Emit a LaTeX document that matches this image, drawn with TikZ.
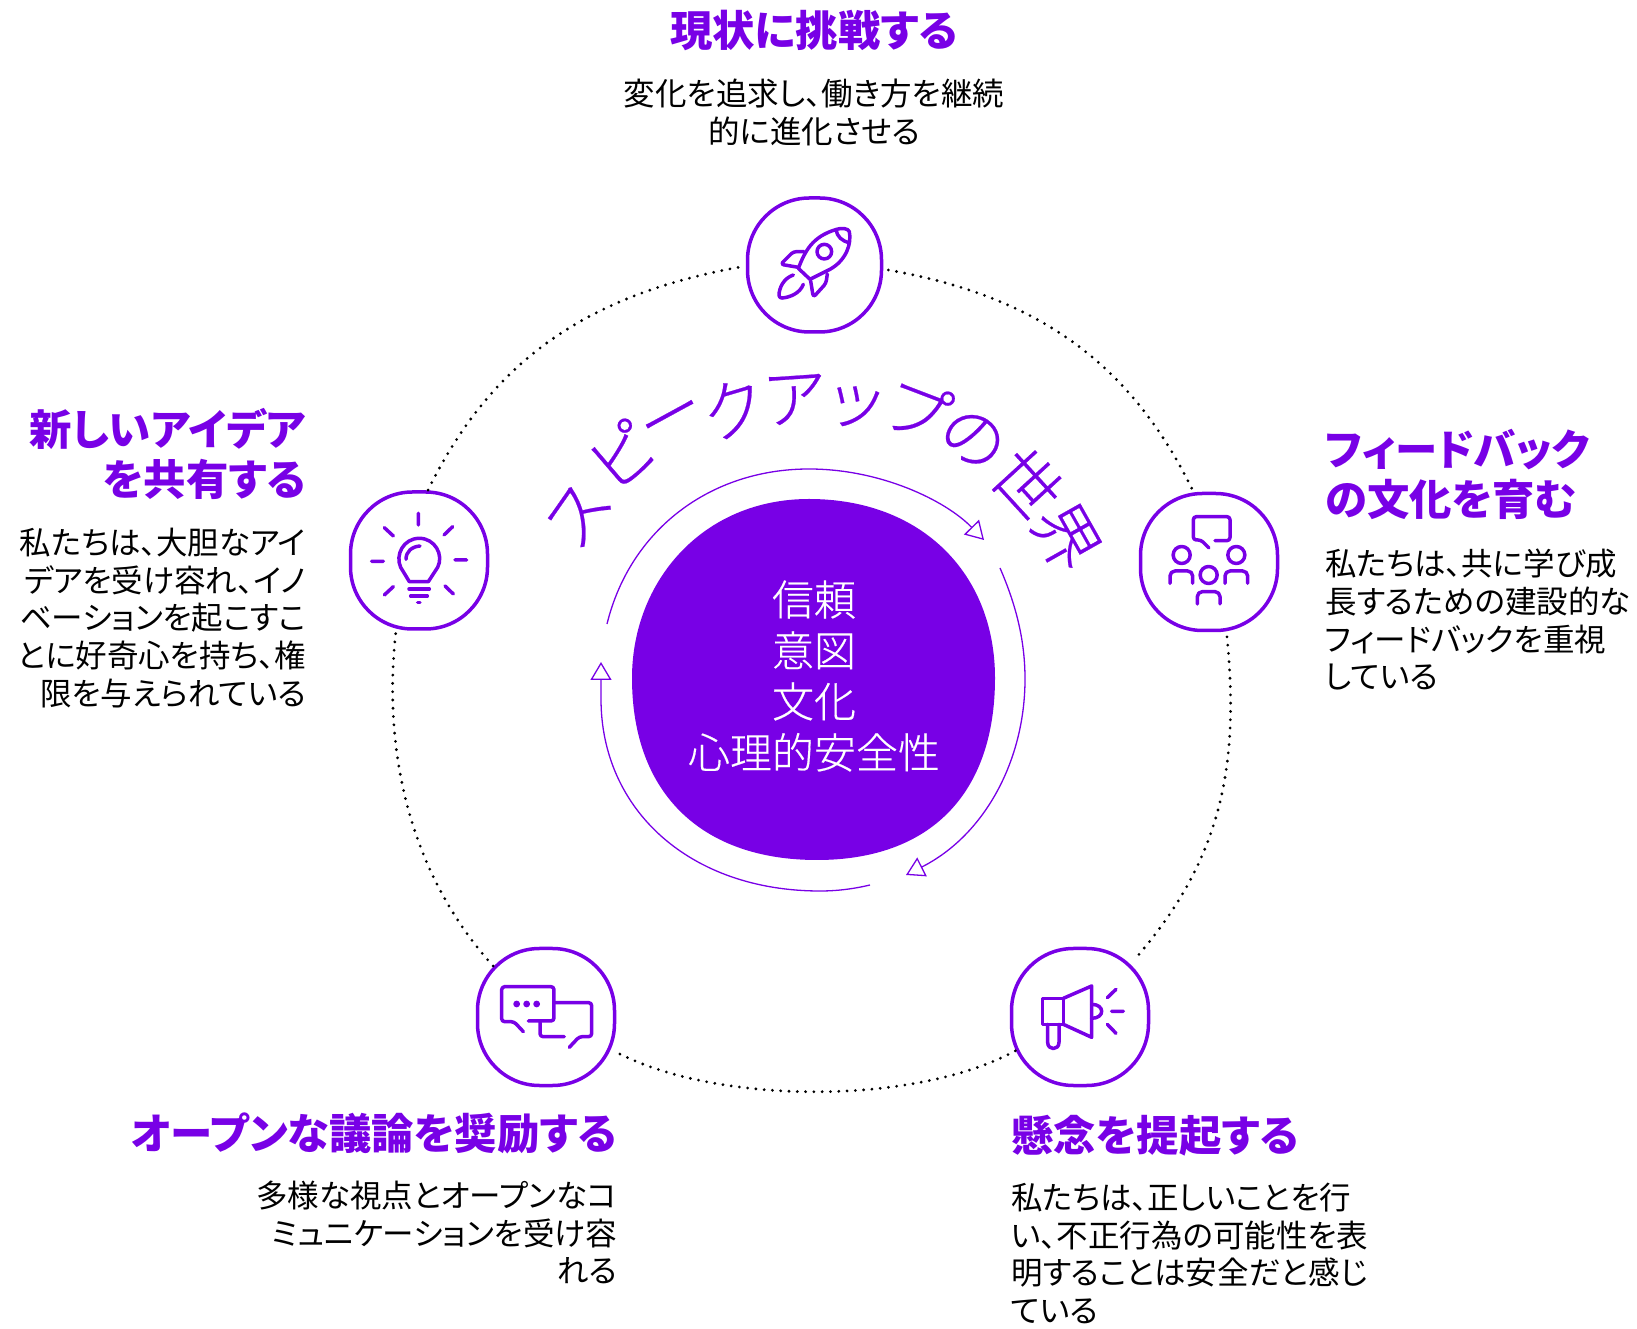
\documentclass[tikz,border=0pt]{standalone}
\usepackage{fontspec}
\newfontfamily\cjk[RawFeature=+palt]{Noto Sans CJK JP}
\newfontfamily\cjklight[FakeBold=.35]{Noto Sans CJK JP Light}
\usetikzlibrary{arrows.meta}
\definecolor{accent}{HTML}{7800E6}
\tikzset{
	iconbox/.style={draw=accent,line width=3.5pt,minimum size=137pt,inner sep=0pt,rounded corners=62pt},
	ringline/.style={line width=3.1pt,line cap=round,dash pattern=on 0pt off 8.3pt},
	cycleline/.style={accent,line width=1.3pt,-{Triangle[open,fill=white,length=18pt,width=21pt]}},
	iconline/.style={accent,line width=3.5pt,line cap=round,line join=round,rounded corners=3pt},
	headtext/.style={accent,inner sep=0pt,font=\cjk\bfseries\fontsize{42.4}{50}\selectfont},
	bodytext/.style={inner sep=0pt,font=\cjk\fontsize{31.5}{37.6}\selectfont},
	titlechar/.style={accent,inner sep=0pt,font=\cjklight\fontsize{66}{66}\selectfont}
}
\begin{document}
\begin{tikzpicture}[x=1pt,y=1pt]
	\useasboundingbox (0,0) rectangle (1637,1328);
	\coordinate (mid) at (814,649);
	\node[iconbox,minimum size=134pt] (top) at (814.5,1063) {};
	\node[iconbox] (right) at (1209,766) {};
	\node[iconbox] (lowright) at (1080,311) {};
	\node[iconbox] (lowleft) at (546,311) {};
	\node[iconbox] (left) at (419,767.5) {};
	\draw[ringline] ([shift={(-3.9:74)}]top.center) to[out=-10,in=116] ([shift={(102.7:73)}]right.center);
	\draw[ringline] ([shift={(-76.5:77)}]right.center) to[out=-84.4,in=48.8] ([shift={(46.5:78.5)}]lowright.center);
	\draw[ringline] ([shift={(207.6:73)}]lowright.center) to[out=-151.4,in=-27.7,looseness=.73] ([shift={(-26.6:78)}]lowleft.center);
	\draw[ringline] ([shift={(136:73.5)}]lowleft.center) to[out=132.1,in=263.4,looseness=.9] ([shift={(251.7:73)}]left.center);
	\draw[ringline] ([shift={(82.7:71)}]left.center) to[out=63.9,in=190.3] ([shift={(181.5:74)}]top.center);
	\fill[accent] (809,829) .. controls (922,829) and (995,754) .. (995,650) .. controls (995,534) and (930,468) .. (817,468) .. controls (702,468) and (632,534) .. (632,650) .. controls (632,746) and (702,829) .. (809,829);
	\draw[cycleline] (607,704) .. controls (630,798) and (710,859) .. (809,859) .. controls (880,859) and (945,828) .. (984,788);
	\draw[cycleline] (1000,760) .. controls (1016,723) and (1025,688) .. (1025,649) .. controls (1025,568) and (985,493) .. (906,453);
	\draw[cycleline] (870,443) .. controls (853,439) and (837,437) .. (820,437) .. controls (690,437) and (601,518) .. (601,629) -- (601,666);
	\node[white,inner sep=0pt,align=center,font=\cjklight\fontsize{42}{51}\selectfont] (core) at (814,652) {信頼\\意図\\文化\\心理的安全性};
	\foreach \i/\c/\a/\r in {0/ス/145.1/287,1/ピ/130.6/296,2/ー/118.6/290,3/ク/106.5/282,4/ア/93.9/280,5/ッ/81.4/275,6/プ/69.1/289,7/の/56.5/288,8/世/42.5/289,9/界/29.4/289}{
		\node[titlechar,rotate=\a-90] (title\i) at ([shift={(\a:\r)}]mid) {\c};
	}
	\node[headtext,anchor=north] (tophead) at (814,1318) {現状に挑戦する};
	\node[bodytext,anchor=north,align=center] (topbody) at (814,1249) {変化を追求し、働き方を継続\\的に進化させる};
	\node[headtext,anchor=north east,align=right] (lefthead) at (306,920) {新しいアイデア\\を共有する};
	\node[bodytext,anchor=north east,align=right] (leftbody) at (306,800) {私たちは、大胆なアイ\\デアを受け容れ、イノ\\ベーションを起こすこ\\とに好奇心を持ち、権\\限を与えられている};
	\node[headtext,anchor=north west,align=left] (righthead) at (1325,899) {フィードバック\\の文化を育む};
	\node[bodytext,anchor=north west,align=left] (rightbody) at (1325,779) {私たちは、共に学び成\\長するための建設的な\\フィードバックを重視\\している};
	\node[headtext,anchor=north east] (lowlefthead) at (617,215) {オープンな議論を奨励する};
	\node[bodytext,anchor=north east,align=right] (lowleftbody) at (617,147) {多様な視点とオープンなコ\\ミュニケーションを受け容\\れる};
	\node[headtext,anchor=north west] (lowrighthead) at (1011,213) {懸念を提起する};
	\node[bodytext,anchor=north west,align=left] (lowrightbody) at (1011,145) {私たちは、正しいことを行\\い、不正行為の可能性を表\\明することは安全だと感じ\\ている};
	\begin{scope}[shift={(730,1148)},x=0.3333pt,y=-0.3333pt]
		\draw[iconline,rounded corners=0pt] (205,265) .. controls (225,215) and (245,170) .. (320,148) .. controls (335,143) and (355,145) .. (358,155) .. controls (365,190) and (350,240) .. (300,268) -- (240,298) -- cycle;
		\draw[iconline] (318,150) .. controls (322,170) and (335,183) .. (358,188);
		\draw[iconline] (283,215) circle(7.3pt);
		\draw[iconline] (222,215) -- (190,215) -- (152,253) -- (205,262);
		\draw[iconline] (292,282) -- (288,310) -- (250,352) -- (242,303);
		\draw[iconline] (190,285) .. controls (160,295) and (147,325) .. (147,355) .. controls (180,352) and (210,340) .. (220,313);
	\end{scope}
	\begin{scope}[shift={(1120,848)},x=0.3333pt,y=-0.3333pt]
		\draw[iconline] (285,182) -- (330,182) -- (330,110) -- (220,110) -- (220,180) -- (243,180) -- (267,204);
		\draw[iconline] (185,225) circle(8.5pt) (349,225) circle(8.5pt) (266,285) circle(8.5pt);
		\draw[iconline,rounded corners=5pt] (150,310) -- (150,273) -- (218,273) -- (218,310);
		\draw[iconline,rounded corners=5pt] (315,310) -- (315,273) -- (383,273) -- (383,310);
		\draw[iconline,rounded corners=5pt] (232,372) -- (232,335) -- (300,335) -- (300,372);
	\end{scope}
	\begin{scope}[shift={(1000,393)},x=0.3333pt,y=-0.3333pt]
		\draw[iconline,rounded corners=0pt] (128,190) rectangle (190,268);
		\draw[iconline,rounded corners=0pt] (190,190) -- (275,153) -- (275,307) -- (190,268);
		\draw[iconline,rounded corners=0pt] (143,268) -- (143,322) .. controls (143,347) and (177,347) .. (177,322) -- (177,268);
		\draw[iconline,rounded corners=0pt] (275,208) .. controls (315,208) and (315,250) .. (275,250);
		\draw[iconline] (322,188) -- (348,163) (335,229) -- (370,229) (322,268) -- (348,295);
	\end{scope}
	\begin{scope}[shift={(465,393)},x=0.3333pt,y=-0.3333pt]
		\draw[iconline] (175,290) -- (147,260) -- (110,260) -- (110,155) -- (267,155) -- (267,258) -- (190,258);
		\fill[accent] (155,207) circle(3.4pt) (185,207) circle(3.4pt) (215,207) circle(3.4pt);
		\draw[iconline] (270,203) -- (380,203) -- (380,305) -- (343,305) -- (313,337);
		\draw[iconline] (225,262) -- (225,305) -- (298,305);
	\end{scope}
	\begin{scope}[shift={(340,848)},x=0.3333pt,y=-0.3333pt]
		\draw[iconline] (235,100) -- (235,135) (133,143) -- (160,168) (338,140) -- (312,165) (95,244) -- (130,244) (345,240) -- (380,240) (133,345) -- (160,320) (340,342) -- (315,318);
		\draw[iconline,rounded corners=0pt] (208,305) -- (182,262) .. controls (165,225) and (190,175) .. (238,175) .. controls (285,175) and (312,225) .. (293,262) -- (265,305) -- cycle;
		\draw[iconline] (198,238) .. controls (198,215) and (215,200) .. (240,198);
		\draw[iconline] (207,327) -- (268,327) (212,348) -- (262,348) (233,368) -- (240,368);
	\end{scope}
\end{tikzpicture}
\end{document}
